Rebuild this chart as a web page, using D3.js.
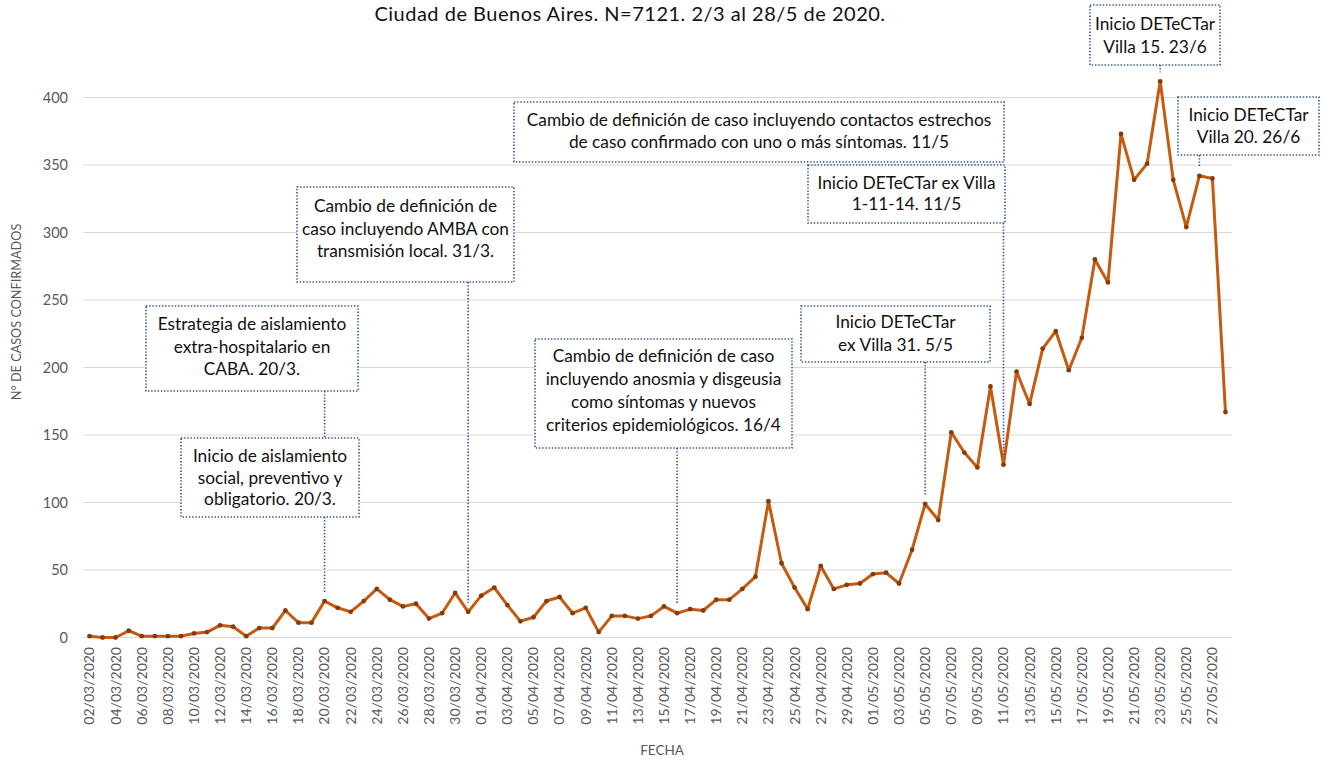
<!DOCTYPE html>
<html>
<head>
<meta charset="utf-8">
<script src="https://cdn.jsdelivr.net/npm/d3@7/dist/d3.min.js"></script>
<style>
  body { margin: 0; background: #fff; }
  svg { font-family: Lato, "Open Sans", sans-serif; }
</style>
</head>
<body>
<div id="chart"></div>
<script>
// Daily confirmed cases, 02/03/2020 .. 28/05/2020
const startDate = new Date(2020, 2, 2);
const endDate = new Date(2020, 4, 29);
const dates = d3.timeDay.range(startDate, endDate);

const cases = [
  1, 0, 0, 5, 1, 1, 1, 1, 3, 4, 9, 8, 1, 7, 7, 20, 11, 11, 27, 22,
  19, 27, 36, 28, 23, 25, 14, 18, 33, 19,
  31, 37, 24, 12, 15, 27, 30, 18, 22, 4, 16, 16, 14, 16, 23, 18, 21, 20, 28, 28,
  36, 45, 101, 55, 37, 21, 53, 36, 39, 40,
  47, 48, 40, 65, 99, 87, 152, 137, 126, 186, 128, 197, 173, 214, 227, 198, 222, 280, 263, 373,
  339, 351, 412, 339, 304, 342, 340, 167
];

const yTicks = [0, 50, 100, 150, 200, 250, 300, 350, 400];

// annotation text and the date each one points at
const noteLines = [
  ['Estrategia de aislamiento', 'extra-hospitalario en', 'CABA. 20/3.'],
  ['Inicio de aislamiento', 'social, preventivo y', 'obligatorio. 20/3.'],
  ['Cambio de definición de', 'caso incluyendo AMBA con', 'transmisión local. 31/3.'],
  ['Cambio de definición de caso', 'incluyendo anosmia y disgeusia', 'como síntomas y nuevos', 'criterios epidemiológicos. 16/4'],
  ['Cambio de definición de caso incluyendo contactos estrechos', 'de caso confirmado con uno o más síntomas. 11/5'],
  ['Inicio DETeCTar ex Villa', '1-11-14. 11/5'],
  ['Inicio DETeCTar', 'ex Villa 31. 5/5'],
  ['Inicio DETeCTar', 'Villa 15. 23/6'],
  ['Inicio DETeCTar', 'Villa 20. 26/6']
];
const noteDates = ['20/03', '20/03', '31/03', '16/04', '11/05', '11/05', '05/05', '23/05', '26/05'];

// box layout [x0, y0, x1, y1, first line y, line step, connector]
const noteBoxes = [
  [146, 306, 358, 391, 330, 22.5, 'box'],
  [181, 438, 359, 517, 462, 21.5, 'point'],
  [297, 187, 514, 282, 212, 22.5, 'point'],
  [535, 339, 792, 448, 362, 23, 'point'],
  [514, 102, 1004, 162, 126, 22, 'none'],
  [808, 165, 1005, 223, 189, 21, 'point'],
  [801, 306, 990, 362, 328, 23, 'point'],
  [1090, 5, 1220, 65, 30, 23, 'point'],
  [1178, 97, 1319, 155, 121, 22, 'point']
];

const W = 1325, H = 761;
const fmt = d3.timeFormat('%d/%m/%Y');
const fmtShort = d3.timeFormat('%d/%m');

const svg = d3.select('#chart').append('svg')
  .attr('width', W).attr('height', H);

const x = d3.scaleBand().domain(dates.map(fmt)).range([83, 1232]);
const cx = d => x(d) + x.bandwidth() / 2;
const y = d3.scaleLinear().domain([0, 400]).range([637.5, 97.5]);

// Gridlines
svg.append('g')
  .selectAll('line')
  .data(yTicks)
  .join('line')
  .attr('x1', 83).attr('x2', 1232)
  .attr('y1', d => y(d)).attr('y2', d => y(d))
  .attr('stroke', '#d9d9d9')
  .attr('stroke-width', 1);

// Y axis labels
svg.append('g')
  .selectAll('text')
  .data(yTicks)
  .join('text')
  .attr('x', 68)
  .attr('y', d => y(d))
  .attr('dy', '0.35em')
  .attr('text-anchor', 'end')
  .style('font-size', '14.5px')
  .style('fill', '#595959')
  .text(d => d);

// X axis labels (every other day)
svg.append('g')
  .selectAll('text')
  .data(dates.filter((d, i) => i % 2 === 0).map(fmt))
  .join('text')
  .attr('transform', d => `translate(${cx(d)},647) rotate(-90)`)
  .attr('dy', '0.35em')
  .attr('text-anchor', 'end')
  .style('font-size', '14px')
  .style('fill', '#595959')
  .text(d => d);

// Axis titles
svg.append('text')
  .attr('transform', 'translate(21,312) rotate(-90)')
  .attr('text-anchor', 'middle')
  .style('font-size', '12.7px')
  .style('fill', '#595959')
  .text('N° DE CASOS CONFIRMADOS');

svg.append('text')
  .attr('x', 662).attr('y', 755)
  .attr('text-anchor', 'middle')
  .style('font-size', '13.5px')
  .style('fill', '#595959')
  .text('FECHA');

// Title
svg.append('text')
  .attr('x', 630).attr('y', 21)
  .attr('text-anchor', 'middle')
  .style('font-size', '20px')
  .style('letter-spacing', '0.5px')
  .style('fill', '#111')
  .text('Ciudad de Buenos Aires. N=7121. 2/3 al 28/5 de 2020.');

// Series
const series = dates.map((d, i) => ({ key: fmt(d), v: cases[i] }));

svg.append('path')
  .datum(series)
  .attr('fill', 'none')
  .attr('stroke', '#c55a11')
  .attr('stroke-width', 3)
  .attr('stroke-linejoin', 'round')
  .attr('d', d3.line().x(d => cx(d.key)).y(d => y(d.v)));

svg.append('g')
  .selectAll('circle')
  .data(series)
  .join('circle')
  .attr('cx', d => cx(d.key))
  .attr('cy', d => y(d.v))
  .attr('r', 2.4)
  .attr('fill', '#843c0c');

// Annotations
const keyFor = s => fmt(dates.find(dd => fmtShort(dd) === s));
const notes = noteLines.map((lines, i) => ({ lines, key: keyFor(noteDates[i]), box: noteBoxes[i] }));
const dotted = sel => sel
  .attr('fill', 'none')
  .attr('stroke', '#2f5597')
  .attr('stroke-width', 1.6)
  .attr('stroke-dasharray', '1.4,1.8');

const ng = svg.append('g');

notes.forEach((n, i) => {
  const [x0, y0, x1, y1, ty, step, conn] = n.box;
  const px = cx(n.key);
  const v = cases[dates.findIndex(d => fmt(d) === n.key)];
  if (conn === 'point') {
    ng.append('line')
      .attr('x1', px).attr('x2', px)
      .attr('y1', y1)
      .attr('y2', y(v) - 9)
      .call(dotted);
  } else if (conn === 'box') {
    const next = notes[i + 1].box;
    ng.append('line')
      .attr('x1', px).attr('x2', px)
      .attr('y1', y1).attr('y2', next[1])
      .call(dotted);
  }
});

notes.forEach(n => {
  const [x0, y0, x1, y1, ty, step] = n.box;
  ng.append('rect')
    .attr('x', x0).attr('y', y0)
    .attr('width', x1 - x0).attr('height', y1 - y0)
    .attr('fill', '#fff');
  ng.append('rect')
    .attr('x', x0).attr('y', y0)
    .attr('width', x1 - x0).attr('height', y1 - y0)
    .call(dotted);
  const t = ng.append('text')
    .attr('text-anchor', 'middle')
    .style('font-size', '17.3px')
    .style('fill', '#111');
  t.selectAll('tspan')
    .data(n.lines)
    .join('tspan')
    .attr('x', (x0 + x1) / 2)
    .attr('y', (d, j) => ty + j * step)
    .text(d => d);
});
</script>
</body>
</html>
